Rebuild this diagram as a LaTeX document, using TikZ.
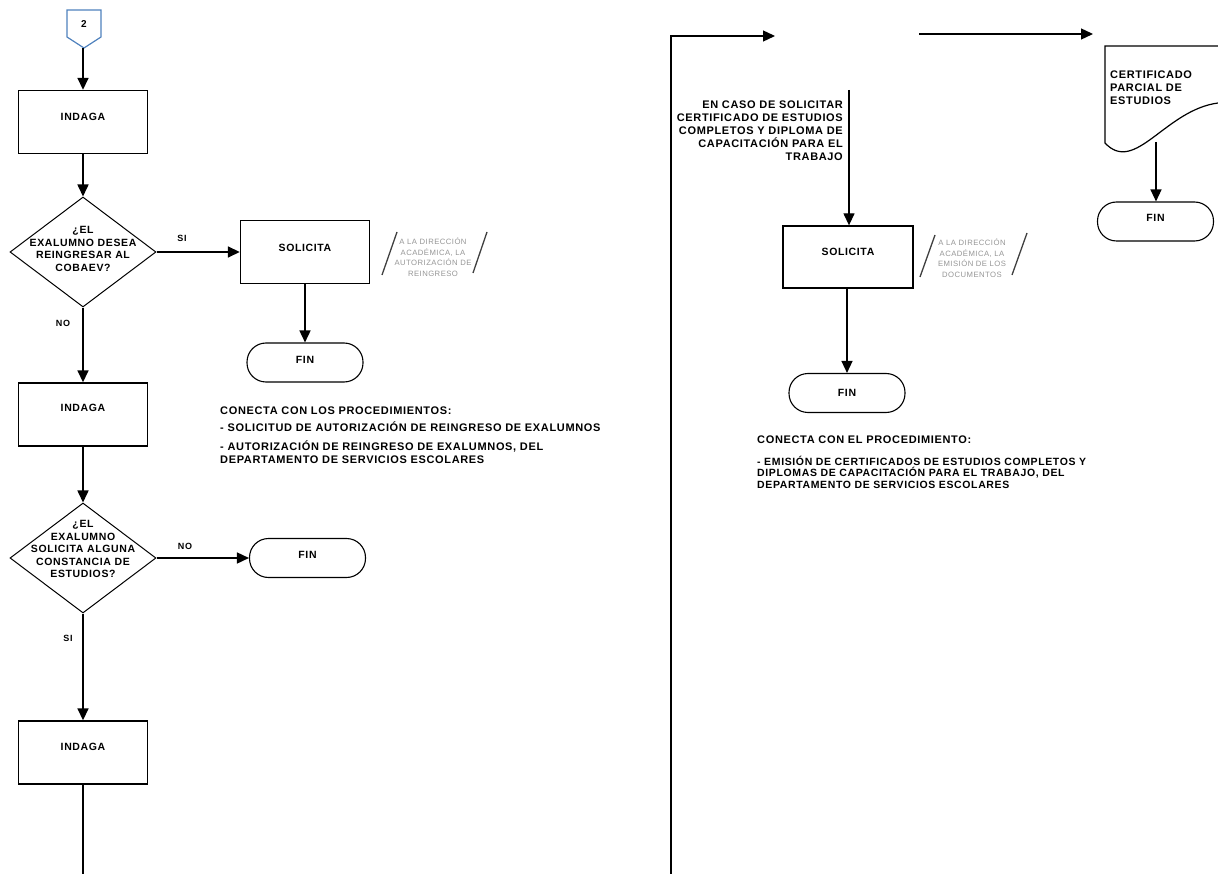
\documentclass[tikz,border=0pt]{standalone}
\usepackage{fontspec}
\setmainfont{Liberation Sans}[LetterSpace=6]
\usetikzlibrary{shapes.geometric,arrows.meta,calc}
\definecolor{conblue}{RGB}{79,129,189}
\definecolor{anngray}{RGB}{150,150,150}
\begin{document}
\begin{tikzpicture}[x=1pt,y=-1pt,
  box/.style={draw, line width=1.4pt, minimum width=129pt, minimum height=63pt, inner sep=0pt},
  dec/.style={draw, diamond, line width=1pt, minimum width=146pt, minimum height=110pt, inner sep=0pt},
  term/.style={draw, rounded corners=19pt, line width=1.1pt, minimum width=116pt, minimum height=39pt, inner sep=0pt},
  lbl/.style={font=\bfseries\fontsize{10.5}{12.5}\selectfont, align=center, inner sep=0pt},
  small/.style={font=\bfseries\fontsize{9}{11}\selectfont, inner sep=0pt},
  note/.style={font=\bfseries\fontsize{11}{13}\selectfont, align=left, inner sep=0pt, anchor=west},
  ann/.style={font=\fontsize{7.7}{10.5}\selectfont, text=anngray, align=center, inner sep=0pt},
  annline/.style={line width=1.3pt, draw=black!75},
  arr/.style={line width=1.6pt, -{Triangle[length=12pt,width=11pt]}},
  arrthin/.style={line width=1.3pt, -{Triangle[length=12pt,width=11pt]}},
  plain/.style={line width=1.6pt}
]
\useasboundingbox (0,0) rectangle (1218,874);

% ---------- left column ----------
\draw[conblue, line width=1.2pt] (67,10) -- (101,10) -- (101,37) -- (84,48) -- (67,37) -- cycle;
\node[small, font=\bfseries\fontsize{10}{12}\selectfont] (c2t) at (84,24) {2};
\coordinate (c2) at (83,48);

\node[box, label={[lbl,yshift=5pt]center:INDAGA}] (ind1) at (83,122) {};
\node[dec, label={[lbl,yshift=3pt]center:¿EL\\EXALUMNO DESEA\\REINGRESAR AL\\COBAEV?}] (d1) at (83,252) {};
\node[box, label={[lbl,yshift=4.5pt]center:SOLICITA}] (sol1) at (305,252) {};
\node[term, label={[lbl,yshift=2.5pt]center:FIN}] (fin1) at (305,362.5) {};
\node[box, label={[lbl,yshift=6.5pt]center:INDAGA}] (ind2) at (83,414.5) {};
\node[dec, label={[lbl,yshift=9pt]center:¿EL\\EXALUMNO\\SOLICITA ALGUNA\\CONSTANCIA DE\\ESTUDIOS?}] (d2) at (83,558) {};
\node[term, label={[lbl,yshift=3.5pt]center:FIN}] (fin2) at (307.5,558) {};
\node[box, label={[lbl,yshift=5.5pt]center:INDAGA}] (ind3) at (83,752.5) {};
\coordinate (bot1) at (83,874);

\draw[arr] (c2) -- (ind1.north);
\draw[arr] (ind1) -- (d1);
\draw[arr] (d1) -- (sol1);
\node[small] (si1) at (182,238) {SI};
\draw[arr] (sol1) -- (fin1);
\draw[arr] (d1) -- (ind2);
\node[small] (no1) at (63,323) {NO};
\draw[arr] (ind2) -- (d2);
\draw[arr] (d2) -- (fin2);
\node[small] (no2) at (185,546) {NO};
\draw[arr] (d2) -- (ind3);
\node[small] (si2) at (68,638) {SI};
\draw[plain] (ind3) -- (bot1);

% annotation 1
\draw[annline] (382,275) -- (397,232);
\draw[annline] (473,273) -- (487,232);
\node[ann] (ann1) at (433,257) {A LA DIRECCIÓN\\ACADÉMICA, LA\\AUTORIZACIÓN DE\\REINGRESO};

% notes left
\node[note] (n1) at (220,411) {CONECTA CON LOS PROCEDIMIENTOS:};
\node[note] (n2) at (220,427) {- SOLICITUD DE AUTORIZACIÓN DE REINGRESO DE EXALUMNOS};
\node[note] (n3) at (220,452.5) {- AUTORIZACIÓN DE REINGRESO DE EXALUMNOS, DEL\\DEPARTAMENTO DE SERVICIOS ESCOLARES};

% ---------- right column ----------
\coordinate (bot2) at (671,874);
\coordinate (a1) at (775,36);
\draw[arrthin] (bot2) |- (a1);
\coordinate (a2s) at (919,34);
\coordinate (a2e) at (1093,34);
\draw[arrthin] (a2s) -- (a2e);

% document shape
\draw[line width=1.2pt] (1218,46) -- (1105,46) -- (1105,143)
  .. controls (1135,175) and (1165,110) .. (1218,103);
\coordinate (docb) at (1156,142);
\node[note] (doct) at (1110,88) {CERTIFICADO\\PARCIAL DE\\ESTUDIOS};
\node[term, label={[lbl,yshift=3.5pt]center:FIN}] (fin4) at (1155.5,221.5) {};
\draw[arrthin] (docb) -- (docb |- fin4.north);

% EN CASO text and arrow
\node[note, anchor=east, align=right] (encaso) at (843,131) {EN CASO DE SOLICITAR\\CERTIFICADO DE ESTUDIOS\\COMPLETOS Y DIPLOMA DE\\CAPACITACIÓN PARA EL\\TRABAJO};
\coordinate (enc) at (849,90);
\node[box, line width=1.3pt, minimum width=130pt, minimum height=62pt, label={[lbl,yshift=5pt]center:SOLICITA}] (sol2) at (848,257) {};
\draw[arrthin] (enc) -- (enc |- sol2.north);
\node[term, label={[lbl]center:FIN}] (fin3) at (847,393) {};
\draw[arrthin] (sol2.south -| fin3.north) -- (fin3.north);

% annotation 2
\draw[annline] (920,277) -- (935,235);
\draw[annline] (1012,275) -- (1027,233);
\node[ann] (ann2) at (972,258) {A LA DIRECCIÓN\\ACADÉMICA, LA\\EMISIÓN DE LOS\\DOCUMENTOS};

% notes right
\node[note] (n4) at (757,440) {CONECTA CON EL PROCEDIMIENTO:};
\node[note, font=\bfseries\fontsize{10.5}{11.5}\selectfont] (n5) at (757,472) {- EMISIÓN DE CERTIFICADOS DE ESTUDIOS COMPLETOS Y\\DIPLOMAS DE CAPACITACIÓN PARA EL TRABAJO, DEL\\DEPARTAMENTO DE SERVICIOS ESCOLARES};
\end{tikzpicture}
\end{document}
